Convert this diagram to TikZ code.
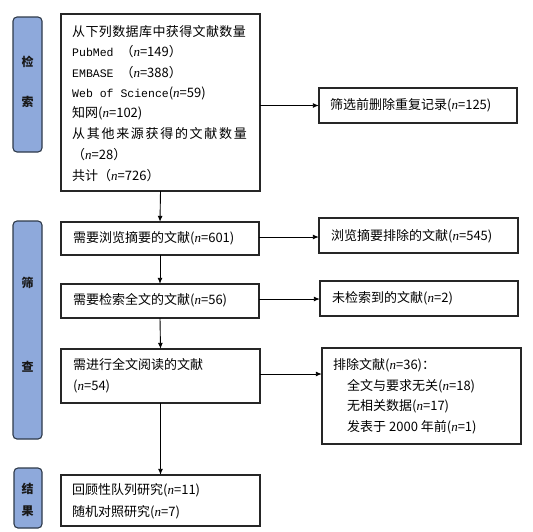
\documentclass[tikz,border=0pt]{standalone}
\usepackage{fontspec}
\setmainfont{Noto Sans CJK SC}
\newfontfamily\monofnt{Liberation Mono}
\newfontfamily\serfnt{Liberation Serif}
\usetikzlibrary{arrows.meta}
\newcommand{\nn}{{\serfnt\itshape n}}
\definecolor{labfill}{HTML}{8EA9DB}
\definecolor{labdraw}{HTML}{2E3A4A}
\begin{document}
\begin{tikzpicture}[x=1pt,y=-1pt,
  box/.style={draw=black!85,line width=1.1pt,fill=white},
  lab/.style={draw=labdraw,line width=1.1pt,fill=labfill,rounded corners=4pt},
  txt/.style={anchor=west,inner sep=0pt,font=\fontsize{13}{13}\selectfont},
  labtxt/.style={inner sep=0pt,text=black!90,font=\fontsize{12}{12}\selectfont\bfseries},
  arr/.style={-{Latex[length=6pt,width=5pt]},line width=0.9pt,black}]
\useasboundingbox (0,0) rectangle (533,531);
% left labels
\draw[lab] (13,17) rectangle (42,152);
\node[labtxt] (l1a) at (27.5,62) {检};
\node[labtxt] (l1b) at (27.5,102) {索};
\draw[lab] (13,221) rectangle (42,439);
\node[labtxt] (l2a) at (27.5,283) {筛};
\node[labtxt] (l2b) at (27.5,367) {查};
\draw[lab] (14,468) rectangle (42,528);
\node[labtxt] (l3a) at (27.5,489) {结};
\node[labtxt] (l3b) at (27.5,511) {果};
% main boxes
\draw[box] (61,14) rectangle (260,191);
\node (b1) at (160.5,102.5) [minimum width=199pt,minimum height=177pt] {};
\node[txt] at (72,32) {\addfontfeature{LetterSpace=3}从下列数据库中获得文献数量};
\node[txt] at (72,52) {{\monofnt\fontsize{11.5}{12}\selectfont PubMed }（\nn=149）};
\node[txt] at (72,72.5) {{\monofnt\fontsize{11.5}{12}\selectfont EMBASE }（\nn=388）};
\node[txt] at (72,93) {{\monofnt\fontsize{11.5}{12}\selectfont Web of Science}(\nn=59)};
\node[txt] at (72,113.5) {知网(\nn=102)};
\node[txt] at (72,134) {\addfontfeature{LetterSpace=13}从其他来源获得的文献数量};
\node[txt] at (72,155) {（\nn=28）};
\node[txt] at (72,175.5) {共计（\nn=726）};
\draw[box] (319,88) rectangle (517,123);
\node (r1) at (418,105.5) [minimum width=198pt,minimum height=35pt] {};
\node[txt] at (330,105) {筛选前删除重复记录(\nn=125)};

\draw[box] (61,222) rectangle (259,255);
\node (b2) at (160,238.5) [minimum width=198pt,minimum height=33pt] {};
\node[txt] at (73,238) {需要浏览摘要的文献(\nn=601)};
\draw[box] (319,218) rectangle (518,253);
\node (r2) at (418.5,235.5) [minimum width=199pt,minimum height=35pt] {};
\node[txt] at (331,236) {浏览摘要排除的文献(\nn=545)};

\draw[box] (61,284) rectangle (259,318);
\node (b3) at (160,301) [minimum width=198pt,minimum height=34pt] {};
\node[txt] at (73,300) {需要检索全文的文献(\nn=56)};
\draw[box] (320,281) rectangle (518,316);
\node (r3) at (419,298.5) [minimum width=198pt,minimum height=35pt] {};
\node[txt] at (332,298) {未检索到的文献(\nn=2)};

\draw[box] (61,349) rectangle (260,403);
\node (b4) at (160.5,376) [minimum width=199pt,minimum height=54pt] {};
\node[txt] at (73,365) {需进行全文阅读的文献};
\node[txt] at (73,386) {(\nn=54)};
\draw[box] (322,348) rectangle (521,444);
\node (r4) at (421.5,396) [minimum width=199pt,minimum height=96pt] {};
\node[txt] at (333,365) {排除文献(\nn=36)：};
\node[txt] at (347,386) {全文与要求无关(\nn=18)};
\node[txt] at (347,406.5) {无相关数据(\nn=17)};
\node[txt] at (347,427) {发表于 2000 年前(\nn=1)};

\draw[box] (61,475) rectangle (260,526);
\node (b5) at (160.5,500.5) [minimum width=199pt,minimum height=51pt] {};
\node[txt] at (72,490) {回顾性队列研究(\nn=11)};
\node[txt] at (72,512) {随机对照研究(\nn=7)};

% arrows
\draw[arr] (b1.south) -- (b2.north);
\draw[arr] (b2.south) -- (b3.north);
\draw[arr] (b3.south) -- (b4.north);
\draw[arr] (b4.south) -- (b5.north);
\draw[arr] (b1.east |- r1.west) -- (r1.west);
\draw[arr] (b2.east |- 0,237) -- (r2.west |- 0,237);
\draw[arr] (b3.east |- 0,299) -- (r3.west |- 0,299);
\draw[arr] (b4.east |- 0,374) -- (r4.west |- 0,374);
\end{tikzpicture}
\end{document}
